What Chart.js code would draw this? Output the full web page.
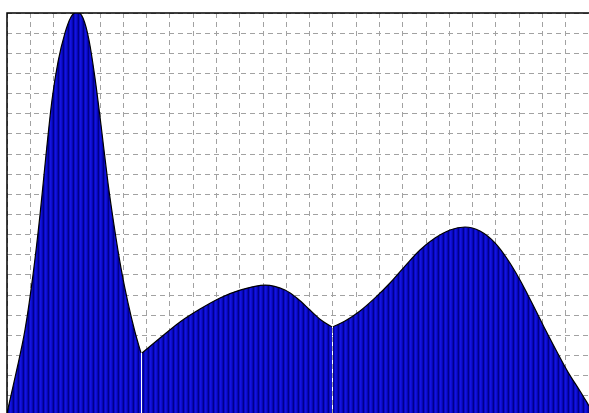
<!DOCTYPE html>
<html>
<head>
<meta charset="utf-8">
<script src="https://cdn.jsdelivr.net/npm/chart.js@4"></script>
<style>
  html, body { margin: 0; padding: 0; background: #fff; overflow: hidden; }
  #wrap { width: 589px; height: 413px; overflow: hidden; }
</style>
</head>
<body>
<div id="wrap"><canvas id="grafico" width="589" height="416"></canvas></div>
<script>
// three pieces of the curve, x in grid columns, y in grid rows
const esqX = [0.000, 0.387, 0.773, 1.117, 1.418, 1.675, 1.933, 2.191, 2.491, 2.749, 3.007, 3.265, 3.522, 3.780, 4.038, 4.339, 4.596, 4.897, 5.198, 5.498, 5.756];
const esqY = [0.15, 2.13, 4.27, 7.00, 9.98, 12.95, 15.68, 17.57, 19.01, 19.80, 20.05, 19.75, 18.66, 16.77, 14.44, 11.56, 9.48, 7.34, 5.61, 4.17, 3.13];

const meioX = [5.800, 6.572, 7.431, 8.290, 9.149, 10.009, 11.082, 11.942, 12.500, 13.015, 13.488, 13.960];
const meioY = [3.13, 3.87, 4.67, 5.31, 5.86, 6.25, 6.50, 6.25, 5.81, 5.26, 4.76, 4.42];

const dirX = [14.000, 14.519, 15.163, 15.808, 16.452, 17.096, 17.741, 18.385, 19.029, 19.674, 20.318, 20.962, 21.521, 22.036, 22.552, 23.067, 23.582, 24.098, 24.613, 25.000];
const dirY = [4.42, 4.71, 5.21, 5.86, 6.60, 7.44, 8.24, 8.83, 9.23, 9.38, 9.18, 8.59, 7.74, 6.75, 5.61, 4.42, 3.28, 2.18, 1.24, 0.50];

function listrado() {
  const c = document.createElement("canvas");
  c.width = 5; c.height = 1;
  const g = c.getContext("2d");
  const cores = ["#1414e0", "#0f0fd2", "#0707b4", "#00008a", "#0a0ac4"];
  cores.forEach((cor, i) => { g.fillStyle = cor; g.fillRect(i, 0, 1, 1); });
  return g.createPattern(c, "repeat");
}

const fundo = listrado();

function pedaco(xs, ys) {
  return {
    data: xs.map((x, i) => ({ x: x, y: ys[i] })),
    borderColor: "#000000",
    borderWidth: 1.2,
    backgroundColor: fundo,
    fill: "start",
    pointRadius: 0,
    cubicInterpolationMode: "monotone"
  };
}

const bordas = {
  id: "bordas",
  afterDatasetsDraw(chart) {
    const a = chart.chartArea;
    const ctx = chart.ctx;
    ctx.save();
    ctx.strokeStyle = "#000";
    ctx.lineWidth = 1.5;
    ctx.beginPath();
    ctx.moveTo(a.left, a.bottom);
    ctx.lineTo(a.left, a.top);
    ctx.lineTo(a.right, a.top);
    ctx.stroke();
    ctx.restore();
  }
};

new Chart(document.getElementById("grafico"), {
  type: "line",
  data: {
    datasets: [pedaco(esqX, esqY), pedaco(meioX, meioY), pedaco(dirX, dirY)]
  },
  options: {
    responsive: false,
    animation: false,
    layout: { padding: { left: 7, top: 13, right: 0, bottom: 0 } },
    plugins: { legend: { display: false }, tooltip: { enabled: false } },
    scales: {
      x: {
        type: "linear",
        min: 0, max: 25,
        ticks: { display: false, stepSize: 1 },
        grid: { color: "#a2a2a2", drawTicks: false, lineWidth: 1 },
        border: { display: false, dash: [5, 4] }
      },
      y: {
        min: 0, max: 20,
        ticks: { display: false, stepSize: 1 },
        grid: { color: "#a2a2a2", drawTicks: false, lineWidth: 1 },
        border: { display: false, dash: [5, 4] }
      }
    }
  },
  plugins: [bordas]
});
</script>
</body>
</html>
